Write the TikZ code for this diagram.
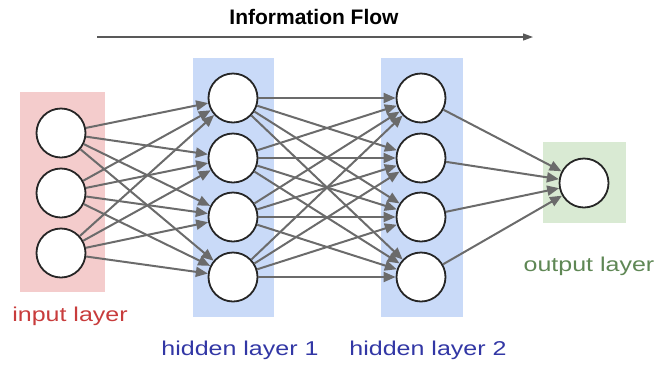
\documentclass[tikz,border=0pt]{standalone}
\usepackage{fontspec}
\setmainfont{Liberation Sans}
\newfontfamily\labelfont[FakeStretch=1.25]{Liberation Sans}
\usetikzlibrary{arrows.meta}
\definecolor{pinkbg}{HTML}{F4CCCC}
\definecolor{bluebg}{HTML}{C9DAF8}
\definecolor{greenbg}{HTML}{D9EAD3}
\definecolor{redtxt}{RGB}{200,60,60}
\definecolor{bluetxt}{RGB}{50,55,165}
\definecolor{greentxt}{RGB}{95,135,85}
\begin{document}
\begin{tikzpicture}[x=1pt,y=-1pt,
  neuron/.style={circle,draw=black!85,line width=1.8pt,fill=white,minimum size=49pt,inner sep=0pt},
  conn/.style={draw=black!58,line width=2pt,-{Triangle[length=12pt,width=10pt]}},
  flowarrow/.style={draw=black!65,line width=1.2pt,-{Triangle[length=10pt,width=7pt]}},
  lbl/.style={anchor=base,font=\labelfont\fontsize{20}{24}\selectfont}]
\useasboundingbox (0,0) rectangle (656,365);
% backgrounds
\fill[pinkbg] (20,92) rectangle (105,292);
\fill[bluebg] (193,58) rectangle (274,317);
\fill[bluebg] (381,58) rectangle (463,317);
\fill[greenbg] (543,142) rectangle (626,223);
% title and flow arrow
\node[anchor=base,font=\bfseries\fontsize{21}{24}\selectfont] (title) at (314,24) {Information Flow};
\coordinate (fs) at (97,37);
\coordinate (fe) at (533,37);
\draw[flowarrow] (fs) -- (fe);
% neurons
\node[neuron] (i1) at (61,133) {};
\node[neuron] (i2) at (61,193) {};
\node[neuron] (i3) at (61,253) {};
\node[neuron] (h1) at (233,98) {};
\node[neuron] (h2) at (233,158) {};
\node[neuron] (h3) at (233,217) {};
\node[neuron] (h4) at (233,277) {};
\node[neuron] (g1) at (421,98) {};
\node[neuron] (g2) at (421,158) {};
\node[neuron] (g3) at (421,217) {};
\node[neuron] (g4) at (421,277) {};
\node[neuron] (o) at (584,183) {};
% connections
\foreach \a in {1,2,3} \foreach \b in {1,2,3,4} \draw[conn] (i\a) -- (h\b);
\foreach \a in {1,2,3,4} \foreach \b in {1,2,3,4} \draw[conn] (h\a) -- (g\b);
\foreach \a in {1,2,3,4} \draw[conn] (g\a) -- (o);
% labels
\node[lbl,text=redtxt] (lin) at (70,321) {input layer};
\node[lbl,text=bluetxt] (lh1) at (240,355) {hidden layer 1};
\node[lbl,text=bluetxt] (lh2) at (428,355) {hidden layer 2};
\node[lbl,text=greentxt] (lout) at (589,271) {output layer};
\end{tikzpicture}
\end{document}
